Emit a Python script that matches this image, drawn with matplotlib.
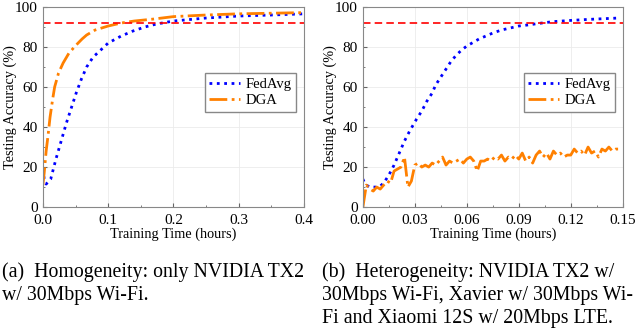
import matplotlib
matplotlib.use("Agg")
import matplotlib.pyplot as plt
from matplotlib.ticker import AutoMinorLocator

plt.rcParams['font.family'] = ['Liberation Serif', 'DejaVu Serif']

# (a) homogeneity
t_fed_a = [0.0, 0.002, 0.005, 0.012, 0.02, 0.028, 0.036, 0.044, 0.051, 0.059, 0.067, 0.077, 0.087,
           0.1, 0.12, 0.138, 0.156, 0.174, 0.2, 0.25, 0.3, 0.35, 0.4]
acc_fed_a = [19, 14, 11.5, 14, 24, 33, 42, 50, 57, 64, 70, 75, 78,
             82, 85.5, 88, 90, 91.5, 93, 94.5, 95.5, 96, 96.6]
t_dga_a = [0.0, 0.002, 0.005, 0.008, 0.011, 0.015, 0.018, 0.024, 0.031, 0.04, 0.051, 0.06, 0.067,
           0.08, 0.1, 0.12, 0.14, 0.17, 0.2, 0.25, 0.3, 0.35, 0.4]
acc_dga_a = [11, 17, 28, 36, 45, 54, 60, 67, 72, 77, 81, 84, 86,
             88.5, 90.5, 92, 93, 94, 95.2, 96, 96.6, 96.9, 97.2]

# (b) heterogeneity
t_fed_b = [0.0, 0.001, 0.002, 0.004, 0.006, 0.008, 0.010, 0.012, 0.015, 0.018, 0.021, 0.024, 0.027,
           0.031, 0.034, 0.037, 0.040, 0.042, 0.045, 0.048, 0.051, 0.054, 0.057, 0.060, 0.064,
           0.067, 0.071, 0.075, 0.080, 0.085, 0.090, 0.095, 0.100, 0.105, 0.110, 0.120, 0.130,
           0.140, 0.148]
acc_fed_b = [14, 12, 11, 10, 10, 10, 10.5, 12, 16, 21, 27, 33, 38,
             44, 48, 53, 57, 61, 65, 69, 73, 76, 78.5, 80.5, 82.5,
             84, 85.5, 87, 88.5, 89.5, 90.5, 91, 91.6, 92.2, 92.7, 93.3, 93.8,
             94.2, 94.5]
t_dga_b = [i * 0.002 for i in range(75)]
acc_dga_b = [0, 11, 9, 8, 10, 9, 11, 13, 12, 18,
             19, 20, 25, 10, 13, 21, 22, 20, 21, 20,
             22, 21, 23, 25, 21, 23, 22, 23, 24, 22,
             24, 25, 23, 18, 23, 23, 24, 23, 25, 24,
             26, 23, 25, 24, 26, 24, 27, 23, 25, 22,
             26, 28, 25, 27, 24, 28, 26, 27, 25, 26,
             26, 29, 27, 28, 26, 30, 27, 28, 25, 29,
             28, 30, 28, 29, 29]

target = 92
fed_color = '#0000ff'
dga_color = '#ff8000'

caption_a = ['(a)  Homogeneity: only NVIDIA TX2', 'w/ 30Mbps Wi-Fi.']
caption_b = ['(b)  Heterogeneity: NVIDIA TX2 w/', '30Mbps Wi-Fi, Xavier w/ 30Mbps Wi-',
             'Fi and Xiaomi 12S w/ 20Mbps LTE.']

fig = plt.figure(figsize=(6.4, 3.34), dpi=100)
ax1 = fig.add_axes([0.067, 0.380, 0.408, 0.599])
ax2 = fig.add_axes([0.567, 0.380, 0.406, 0.599])


def style(ax, xmax, xticks, fmt):
    ax.set_xlim(0, xmax)
    ax.set_ylim(0, 100)
    ax.set_xticks(xticks)
    ax.set_xticklabels([fmt % v for v in xticks])
    ax.set_yticks([0, 20, 40, 60, 80, 100])
    ax.xaxis.set_minor_locator(AutoMinorLocator(2))
    ax.yaxis.set_minor_locator(AutoMinorLocator(2))
    ax.tick_params(direction='in', labelsize=11, length=3, color='#666666')
    ax.tick_params(axis='x', pad=5)
    ax.tick_params(axis='y', pad=3.5)
    ax.tick_params(which='minor', direction='in', length=1.5, color='#666666')
    ax.grid(True, color='#ebebeb', lw=0.6)
    ax.set_axisbelow(True)
    for s in ax.spines.values():
        s.set_color('#888888')
        s.set_linewidth(0.8)
    ax.set_xlabel('Training Time (hours)', fontsize=10.3, labelpad=0)
    ax.set_ylabel('Testing Accuracy (%)', fontsize=10.3)
    ax.yaxis.set_label_coords(-0.098, 0.5)
    ax.axhline(target, color='red', ls=(0, (4.5, 2.5)), lw=1.2)
    ax.legend(loc='upper right', bbox_to_anchor=(0.97, 0.67), fontsize=10.5,
              fancybox=False, edgecolor='#888888', framealpha=1,
              handlelength=2.1, borderpad=0.3, labelspacing=0.25, handletextpad=0.4,
              borderaxespad=0)


ax1.plot(t_fed_a, acc_fed_a, ls=':', color=fed_color, lw=2, label='FedAvg')
ax1.plot(t_dga_a, acc_dga_a, ls='-.', color=dga_color, lw=2, label='DGA')
style(ax1, 0.4, [0.0, 0.1, 0.2, 0.3, 0.4], '%.1f')

ax2.plot(t_fed_b, acc_fed_b, ls=':', color=fed_color, lw=2, label='FedAvg')
ax2.plot(t_dga_b, acc_dga_b, ls='-.', color=dga_color, lw=2, label='DGA')
style(ax2, 0.15, [0.0, 0.03, 0.06, 0.09, 0.12, 0.15], '%.2f')

# captions, baselines (px from top)
for i, line in enumerate(caption_a):
    fig.text(0.003, 1 - (277 + 23 * i) / 334, line, fontsize=14.3, va='baseline', ha='left')
for i, line in enumerate(caption_b):
    fig.text(0.503, 1 - (277 + 23 * i) / 334, line, fontsize=14.3, va='baseline', ha='left')

fig.savefig('out.png', dpi=100)
